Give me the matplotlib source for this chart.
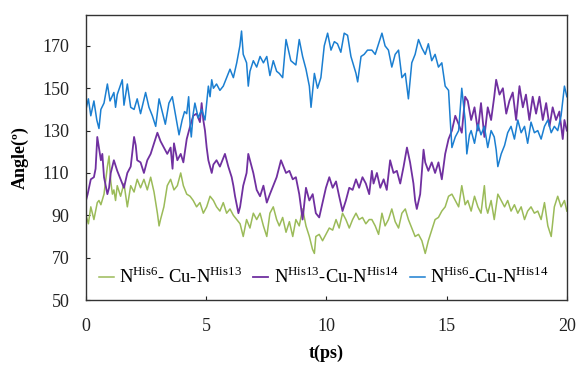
import matplotlib
matplotlib.use("Agg")
import matplotlib.pyplot as plt

plt.rcParams["font.family"] = ["Liberation Serif", "DejaVu Serif"]
plt.rcParams["mathtext.fontset"] = "custom"
plt.rcParams["mathtext.rm"] = "Liberation Serif"

# N(His6)-Cu-N(His13)
t_green = [0.0, 0.1, 0.2, 0.33, 0.4, 0.47, 0.54, 0.62, 0.75, 0.89, 0.96, 1.03, 1.1, 1.16, 1.23, 1.3,
           1.44, 1.58, 1.72, 1.86, 2.0, 2.13, 2.27, 2.41, 2.55, 2.69, 2.83, 2.97, 3.04, 3.1, 3.24, 3.38,
           3.52, 3.66, 3.8, 3.94, 4.05, 4.19, 4.33, 4.46, 4.6, 4.74, 4.88, 5.02, 5.16, 5.3, 5.43, 5.57,
           5.71, 5.85, 5.99, 6.13, 6.27, 6.41, 6.54, 6.68, 6.82, 6.96, 7.1, 7.24, 7.38, 7.52, 7.65, 7.79,
           7.93, 8.04, 8.18, 8.32, 8.46, 8.6, 8.73, 8.87, 9.01, 9.15, 9.29, 9.42, 9.5, 9.56, 9.7, 9.84,
           9.98, 10.12, 10.26, 10.4, 10.53, 10.67, 10.81, 10.95, 11.09, 11.23, 11.36, 11.5, 11.64, 11.78,
           11.89, 12.03, 12.17, 12.31, 12.44, 12.58, 12.72, 12.86, 13.0, 13.14, 13.28, 13.41, 13.55,
           13.69, 13.83, 13.97, 14.11, 14.24, 14.38, 14.52, 14.66, 14.8, 14.94, 15.08, 15.22, 15.36,
           15.5, 15.63, 15.77, 15.88, 16.02, 16.16, 16.3, 16.43, 16.57, 16.64, 16.71, 16.85, 16.98,
           17.13, 17.27, 17.41, 17.54, 17.68, 17.82, 17.96, 18.1, 18.24, 18.37, 18.51, 18.65, 18.79,
           18.93, 19.07, 19.21, 19.35, 19.48, 19.62, 19.76, 19.9, 20.0]
v_green = [90, 86, 94, 88, 92, 96, 97, 95, 100, 113, 118, 106, 100, 102, 97, 104,
           99, 105, 94, 104, 101, 107, 103, 107, 102, 108, 101, 91, 85, 88, 94, 104,
           107, 102, 104, 110, 104, 100, 99, 97, 94, 96, 91, 94, 99, 97, 94, 92,
           96, 91, 93, 90, 88, 86, 80, 88, 84, 91, 88, 91, 85, 80, 91, 94,
           88, 85, 89, 82, 87, 80, 88, 85, 93, 85, 80, 74, 72, 80, 81, 78,
           81, 84, 83, 88, 84, 91, 88, 84, 88, 91, 88, 89, 86, 88,
           88, 85, 81, 91, 85, 88, 93, 87, 84, 91, 93, 88, 84,
           80, 81, 78, 72, 78, 83, 88, 89, 92, 94, 99, 100, 97,
           94, 104, 95, 97, 92, 99, 94, 91, 104, 94, 91, 97, 88,
           100, 97, 94, 97, 92, 95, 91, 94, 88, 92, 94, 91, 92,
           88, 96, 85, 80, 94, 99, 94, 97, 92]

# N(His13)-Cu-N(His14)
t_purple = [0.0, 0.07, 0.2, 0.33, 0.4, 0.47, 0.54, 0.62, 0.68, 0.75, 0.89, 0.96, 1.03, 1.16, 1.3, 1.44,
            1.58, 1.72, 1.86, 2.0, 2.07, 2.13, 2.27, 2.41, 2.55, 2.69, 2.83, 2.97, 3.1, 3.24, 3.38, 3.52,
            3.6, 3.66, 3.8, 3.94, 4.05, 4.19, 4.33, 4.46, 4.6, 4.74, 4.81, 4.88, 4.95, 5.02, 5.09, 5.16,
            5.23, 5.3, 5.43, 5.57, 5.71, 5.78, 5.92, 6.06, 6.13, 6.2, 6.34, 6.41, 6.54, 6.68, 6.75, 6.82,
            6.96, 7.1, 7.24, 7.38, 7.52, 7.65, 7.79, 7.93, 8.11, 8.18, 8.32, 8.46, 8.6, 8.73, 8.87, 9.01,
            9.15, 9.29, 9.43, 9.56, 9.7, 9.84, 9.98, 10.12, 10.26, 10.4, 10.53, 10.67, 10.81, 10.95, 11.09,
            11.23, 11.36, 11.5, 11.64, 11.78, 11.89, 11.96, 12.1, 12.24, 12.38, 12.51, 12.65, 12.79, 12.93,
            13.07, 13.21, 13.35, 13.48, 13.62, 13.69, 13.76, 13.9, 14.04, 14.11, 14.24, 14.38, 14.52,
            14.66, 14.8, 14.94, 15.08, 15.22, 15.36, 15.5, 15.63, 15.77, 15.88, 16.02, 16.16, 16.3, 16.43,
            16.57, 16.71, 16.85, 16.98, 17.06, 17.2, 17.34, 17.48, 17.61, 17.75, 17.89, 18.03, 18.17,
            18.3, 18.44, 18.58, 18.72, 18.86, 19.0, 19.14, 19.28, 19.41, 19.55, 19.69, 19.83, 19.9, 20.0]
v_purple = [97, 100, 107, 108, 112, 127, 122, 116, 119, 108, 100, 103, 110, 116, 111, 107,
            103, 110, 113, 127, 123, 116, 115, 110, 116, 119, 124, 129, 125, 122, 119, 122,
            112, 124, 116, 119, 115, 126, 132, 137, 138, 134, 143, 135, 130, 122, 116, 113,
            110, 114, 116, 113, 117, 119, 113, 108, 104, 99, 91, 94, 104, 110, 119, 116,
            110, 102, 99, 104, 96, 100, 104, 108, 116, 114, 110, 111, 107, 108, 100, 88,
            103, 97, 100, 91, 89, 96, 103, 108, 103, 106, 99, 92, 97, 103, 102,
            107, 103, 108, 105, 100, 111, 105, 110, 103, 107, 102, 116, 110, 111,
            105, 113, 122, 115, 105, 97, 93, 100, 121, 115, 111, 115, 110,
            115, 107, 119, 126, 130, 137, 133, 129, 146, 144, 135, 141, 130, 143,
            127, 141, 135, 146, 154, 147, 150, 138, 144, 148, 135, 151, 141,
            147, 135, 146, 138, 146, 135, 143, 132, 141, 135, 139, 126, 135, 130]

# N(His6)-Cu-N(His14)
t_blue = [0.0, 0.1, 0.2, 0.33, 0.45, 0.54, 0.62, 0.75, 0.89, 1.0, 1.16, 1.23, 1.3, 1.51, 1.58, 1.72,
          1.86, 2.0, 2.13, 2.27, 2.48, 2.62, 2.76, 2.9, 3.04, 3.17, 3.3, 3.45, 3.59, 3.73, 3.87, 4.0,
          4.1, 4.19, 4.27, 4.33, 4.38, 4.46, 4.53, 4.67, 4.81, 4.95, 5.02, 5.09, 5.16, 5.23, 5.3, 5.43,
          5.57, 5.71, 5.85, 5.99, 6.13, 6.27, 6.4, 6.47, 6.54, 6.68, 6.75, 6.82, 6.96, 7.1, 7.24, 7.38,
          7.52, 7.65, 7.79, 7.93, 8.04, 8.18, 8.32, 8.52, 8.73, 8.87, 9.01, 9.15, 9.29, 9.36, 9.5, 9.63,
          9.77, 9.91, 10.05, 10.19, 10.33, 10.46, 10.6, 10.74, 10.88, 11.02, 11.23, 11.3, 11.44, 11.57,
          11.71, 11.89, 12.03, 12.17, 12.31, 12.44, 12.58, 12.72, 12.86, 13.0, 13.14, 13.28, 13.41,
          13.55, 13.69, 13.83, 13.97, 14.11, 14.24, 14.38, 14.52, 14.66, 14.8, 14.94, 15.08, 15.15,
          15.22, 15.36, 15.5, 15.63, 15.77, 15.84, 15.95, 16.02, 16.16, 16.3, 16.43, 16.57, 16.71,
          16.85, 16.98, 17.06, 17.13, 17.27, 17.41, 17.54, 17.68, 17.82, 17.96, 18.1, 18.24, 18.37,
          18.51, 18.65, 18.79, 18.93, 19.07, 19.21, 19.35, 19.48, 19.62, 19.76, 19.9, 20.0]
v_blue = [140, 145, 137, 144, 135, 131, 140, 143, 152, 144, 148, 141, 147, 154, 142, 152,
          141, 140, 145, 138, 148, 141, 137, 132, 145, 139, 133, 143, 146, 137, 128, 135,
          139, 138, 146, 133, 127, 138, 143, 136, 140, 135, 143, 151, 146, 154, 150, 152,
          149, 151, 155, 159, 155, 162, 170, 177, 166, 162, 151, 158, 163, 160, 165, 162,
          165, 156, 163, 158, 157, 155, 173, 163, 161, 173, 165, 159, 151, 141, 157, 150,
          155, 170, 176, 168, 172, 171, 167, 176, 175, 165, 157, 153, 165, 166,
          168, 168, 166, 171, 176, 170, 168, 160, 166, 168, 155, 157, 145,
          162, 166, 173, 169, 166, 171, 163, 166, 160, 162, 151, 149, 135,
          122, 127, 130, 150, 135, 119, 128, 130, 124, 133, 128, 132, 122,
          130, 127, 121, 113, 119, 123, 129, 132, 126, 135, 129, 132, 124,
          134, 129, 130, 126, 132, 135, 129, 132, 130, 137, 151, 146]

labels = [r"N$^{\mathrm{His6}}$- Cu-N$^{\mathrm{His13}}$",
          r"N$^{\mathrm{His13}}$-Cu-N$^{\mathrm{His14}}$",
          r"N$^{\mathrm{His6}}$-Cu-N$^{\mathrm{His14}}$"]
colors = ["#9bbb59", "#7030a0", "#1b7fd1"]

fig = plt.figure(figsize=(5.79, 3.65), dpi=100)
ax = fig.add_axes([0.1485, 0.178, 0.8305, 0.781])

ax.plot(t_green, v_green, color=colors[0], lw=1.1, label=labels[0])
ax.plot(t_purple, v_purple, color=colors[1], lw=1.3, label=labels[1])
ax.plot(t_blue, v_blue, color=colors[2], lw=1.1, label=labels[2])

ax.set_xlim(0, 20)
ax.set_ylim(50, 184.6)
ax.set_xticks([0, 5, 10, 15, 20])
ax.set_yticks([50, 70, 90, 110, 130, 150, 170])
ax.tick_params(direction="in", length=3, labelsize=13, colors="#222222")
ax.tick_params(axis="y", pad=12)
ax.tick_params(axis="x", pad=13)
for s in ax.spines.values():
    s.set_color("#333333")
    s.set_linewidth(1.0)

ax.set_xlabel("t(ps)", fontsize=13, fontweight="bold", labelpad=7)
ax.set_ylabel("Angle(º)", fontsize=13, fontweight="bold", labelpad=10)

ax.legend(loc="lower left", bbox_to_anchor=(0.0, 0.0), ncol=3, frameon=False,
          fontsize=13.3, handlelength=0.8, handletextpad=0.3, columnspacing=0.6,
          borderaxespad=0.3)

fig.savefig("out.png", dpi=100)
